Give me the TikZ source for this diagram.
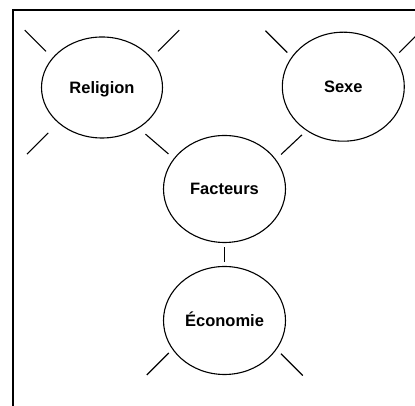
\documentclass[tikz,border=0pt]{standalone}
\usepackage{fontspec}
\setmainfont{Liberation Sans}
\usetikzlibrary{shapes.geometric}

\begin{document}
\begin{tikzpicture}[x=1pt, y=1pt, line width=1.1pt,
  every node/.style={font=\fontsize{16.5}{20}\selectfont\bfseries},
  bulle/.style={draw, ellipse, inner sep=0pt, text height=11.8pt, text depth=0pt}]
% page
\useasboundingbox (0,0) rectangle (415,406);
% frame, top and left side only
\draw[line width=1.4pt] (13,0) -- (13,396) -- (415,396);
% circles
\node[bulle, minimum width=121pt, minimum height=101pt] (rel) at (102,318.5) {Religion};
\node[bulle, minimum width=122pt, minimum height=109pt] (sex) at (343.3,319.3) {Sexe};
\node[bulle, minimum width=122pt, minimum height=107pt] (fac) at (224.5,217) {Facteurs};
\node[bulle, minimum width=122pt, minimum height=108pt] (eco) at (224.5,85.5) {Économie};
% links to Facteurs
\draw[shorten <=9pt, shorten >=7pt] (rel.-48) -- (fac.149);
\draw[shorten <=6pt, shorten >=7pt] (sex.230) -- (fac.30);
\draw[shorten <=4pt, shorten >=4pt] (fac) -- (eco);
% free rays
\draw (rel.149) ++(135:9) -- ++(135:30);
\draw (rel.31) ++(45:9) -- ++(45:30);
\draw (rel.219) ++(225:14) -- ++(225:30);
\draw (sex.150) ++(135:6) -- ++(135:31);
\draw (sex.30) ++(45:6) -- ++(45:31);
\draw (eco.209) ++(225:5) -- ++(225:31);
\draw (eco.-29) ++(-45:6) -- ++(-45:31);
\end{tikzpicture}
\end{document}
